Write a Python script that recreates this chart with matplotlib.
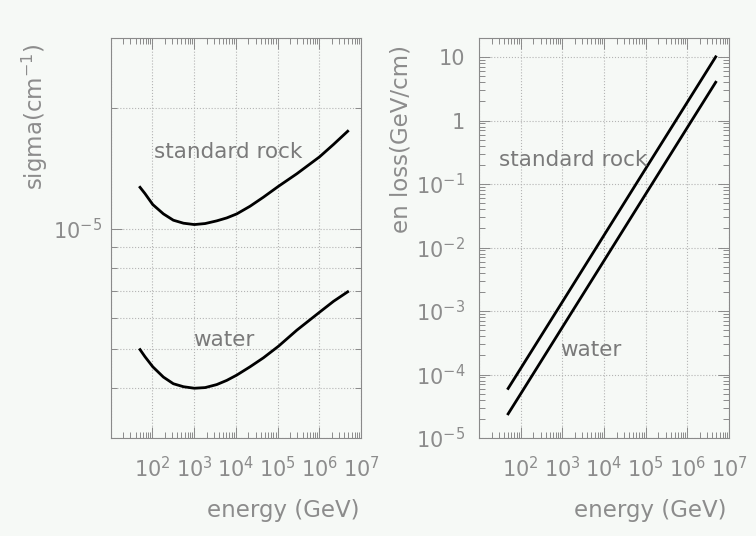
import numpy as np
import matplotlib
matplotlib.use("Agg")
import matplotlib.pyplot as plt
from matplotlib.ticker import LogLocator, FuncFormatter, NullFormatter

plt.rcParams.update({"font.family": "DejaVu Sans", "mathtext.fontset": "dejavusans",
                     "font.size": 15})
BG = "#f6f9f6"
TXT = "#8c8c8c"
AXC = "#8a8a8a"
GRID = "#b4b4b4"

# interaction cross section vs energy
energy_sig = [51, 67, 103, 185, 320, 560, 1020, 1850, 3500, 6100,
              1.06e4, 2.2e4, 4.6e4, 1.06e5, 2.9e5, 1.02e6, 2.2e6, 4.8e6]
sigma_rock = [1.27e-5, 1.225e-5, 1.15e-5, 1.09e-5, 1.051e-5, 1.033e-5,
              1.025e-5, 1.031e-5, 1.047e-5, 1.065e-5, 1.09e-5, 1.139e-5,
              1.20e-5, 1.278e-5, 1.373e-5, 1.514e-5, 1.626e-5, 1.754e-5]
sigma_water = [4.99e-6, 4.79e-6, 4.52e-6, 4.26e-6, 4.10e-6, 4.03e-6,
               3.995e-6, 4.01e-6, 4.08e-6, 4.18e-6, 4.31e-6, 4.52e-6,
               4.76e-6, 5.09e-6, 5.58e-6, 6.19e-6, 6.59e-6, 6.96e-6]

# energy loss vs energy
energy_loss_E = [50, 1e2, 1e3, 1e4, 1e5, 1e6, 4.8e6]
loss_rock = [6.03e-5, 1.245e-4, 1.39e-3, 1.56e-2, 0.175, 1.95, 10.1]
loss_water = [2.4e-5, 4.95e-5, 5.55e-4, 6.2e-3, 0.0695, 0.778, 4.02]

W, H = 756, 536
fig = plt.figure(figsize=(W / 100, H / 100), dpi=100, facecolor=BG)

def px_axes(x0, x1, y0, y1):
    return fig.add_axes([x0 / W, 1 - y1 / H, (x1 - x0) / W, (y1 - y0) / H])

def xfmt(v, pos):
    e = int(round(np.log10(v)))
    return "" if e < 2 else r"$10^{%d}$" % e

def yfmt(v, pos):
    e = int(round(np.log10(v)))
    if e == 1:
        return "10"
    if e == 0:
        return "1"
    return r"$10^{%d}$" % e

def style(ax):
    ax.set_facecolor(BG)
    ax.set_xscale("log")
    ax.set_yscale("log")
    ax.set_xlim(10, 1e7)
    for s in ax.spines.values():
        s.set_color(AXC)
        s.set_linewidth(0.8)
    ax.xaxis.set_major_locator(LogLocator(base=10, numticks=20))
    ax.xaxis.set_minor_locator(LogLocator(base=10, subs=np.arange(2, 10), numticks=20))
    ax.xaxis.set_major_formatter(FuncFormatter(xfmt))
    ax.xaxis.set_minor_formatter(NullFormatter())
    ax.tick_params(which="both", direction="in", top=True, right=True,
                   color=AXC, labelcolor=TXT, labelsize=15, width=0.7)
    ax.tick_params(which="major", length=8)
    ax.tick_params(which="minor", length=4.5)
    ax.tick_params(axis="x", pad=13)
    ax.grid(True, which="major", axis="x", color=GRID, ls=":", lw=0.8)

# left panel: sigma
ax1 = px_axes(110.5, 361, 38, 438)
style(ax1)
ax1.set_ylim(3e-6, 3e-5)
ax1.yaxis.set_major_locator(LogLocator(base=10, numticks=20))
ax1.yaxis.set_minor_locator(LogLocator(base=10, subs=np.arange(2, 10), numticks=20))
ax1.yaxis.set_major_formatter(FuncFormatter(lambda v, p: r"$10^{%d}$" % int(round(np.log10(v)))))
ax1.yaxis.set_minor_formatter(NullFormatter())
ax1.tick_params(axis="y", pad=6)
ax1.grid(True, which="both", axis="y", color=GRID, ls=":", lw=0.8)
ax1.plot(energy_sig, sigma_rock, color="black", lw=2.0)
ax1.plot(energy_sig, sigma_water, color="black", lw=2.0)
ax1.text(0.469, 0.715, "standard rock", transform=ax1.transAxes, ha="center",
         va="center", color="#7a7a7a", fontsize=15.5)
ax1.text(0.453, 0.245, "water", transform=ax1.transAxes, ha="center",
         va="center", color="#7a7a7a", fontsize=15.5)

# right panel: energy loss
ax2 = px_axes(479, 729, 38, 438)
style(ax2)
ax2.set_ylim(1e-5, 20)
ax2.yaxis.set_major_locator(LogLocator(base=10, numticks=20))
ax2.yaxis.set_minor_locator(LogLocator(base=10, subs=np.arange(2, 10), numticks=20))
ax2.yaxis.set_major_formatter(FuncFormatter(yfmt))
ax2.yaxis.set_minor_formatter(NullFormatter())
ax2.tick_params(axis="y", pad=10)
ax2.grid(True, which="major", axis="y", color=GRID, ls=":", lw=0.8)
ax2.plot(energy_loss_E, loss_rock, color="black", lw=2.0)
ax2.plot(energy_loss_E, loss_water, color="black", lw=2.0)
ax2.text(0.376, 0.695, "standard rock", transform=ax2.transAxes, ha="center",
         va="center", color="#7a7a7a", fontsize=15.5)
ax2.text(0.448, 0.22, "water", transform=ax2.transAxes, ha="center",
         va="center", color="#7a7a7a", fontsize=15.5)

# axis titles
fig.text(283 / W, 1 - 510 / H, "energy (GeV)", ha="center", va="center", color=TXT, fontsize=16.5)
fig.text(650 / W, 1 - 510 / H, "energy (GeV)", ha="center", va="center", color=TXT, fontsize=16.5)
fig.text(35 / W, 1 - 117 / H, r"sigma(cm$^{-1}$)", rotation=90, ha="center",
         va="center", color=TXT, fontsize=16.5)
fig.text(401 / W, 1 - 139 / H, "en loss(GeV/cm)", rotation=90, ha="center",
         va="center", color=TXT, fontsize=16.5)

fig.savefig("out.png", dpi=100, facecolor=BG)
